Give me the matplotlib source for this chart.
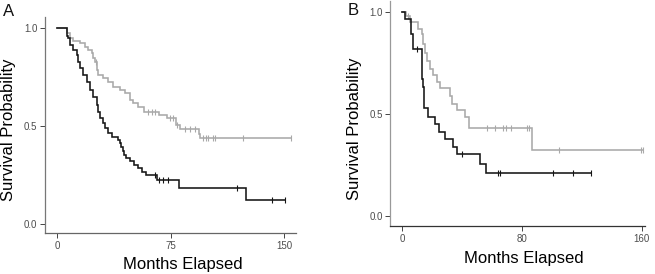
import numpy as np
import matplotlib
matplotlib.use("Agg")
import matplotlib.pyplot as plt

# ---------------- data ----------------
# Panel A (event times in months, survival after event)
a_black_t = [0, 6.4, 7.5, 8.6, 10.8, 13.0, 14.1, 15.2, 17.4, 19.6, 21.8, 24.0, 26.2, 27.3,
             28.4, 30.6, 31.7, 33.9, 36.1, 40.5, 41.5, 42.5, 43.3, 44.0, 45.5, 48.0, 51.0,
             53.5, 56.0, 59.0, 66.0, 80.5, 124.5]
a_black_s = [1.0, 0.96, 0.947, 0.913, 0.888, 0.862, 0.828, 0.794, 0.76, 0.726, 0.683, 0.649,
             0.607, 0.572, 0.539, 0.513, 0.487, 0.462, 0.445, 0.43, 0.41, 0.39, 0.37, 0.35,
             0.335, 0.318, 0.30, 0.283, 0.266, 0.249, 0.225, 0.18, 0.121]
a_black_cens = [64.5, 67.5, 70.0, 73.0, 118.5, 142.0, 150.4]

a_gray_t = [0, 6.4, 8.6, 10.8, 15.2, 18.5, 20.7, 22.9, 24.0, 25.1, 26.2, 27.3, 30.6, 33.9,
            37.2, 41.6, 44.6, 47.9, 50.0, 53.4, 57.7, 67.1, 72.6, 78.8, 81.0, 93.5, 94.5]
a_gray_s = [1.0, 0.975, 0.95, 0.935, 0.922, 0.904, 0.888, 0.871, 0.845, 0.828, 0.785, 0.76,
            0.743, 0.726, 0.70, 0.683, 0.666, 0.632, 0.615, 0.595, 0.572, 0.555, 0.539,
            0.504, 0.482, 0.46, 0.436]
a_gray_cens = [25.5, 60.0, 62.6, 64.8, 74.6, 76.7, 79.0, 84.4, 87.7, 91.0, 96.5, 98.3,
               99.8, 102.7, 104.2, 122.9, 154.4]

# Panel B
b_black_t = [0, 1.8, 5.5, 6.9, 13.0, 13.5, 14.0, 14.7, 17.4, 21.9, 24.8, 28.5, 34.1, 36.4,
             51.9, 55.7]
b_black_s = [1.0, 0.964, 0.89, 0.818, 0.761, 0.672, 0.631, 0.527, 0.485, 0.453, 0.412,
             0.38, 0.339, 0.303, 0.258, 0.214]
b_black_cens = [9.6, 39.7, 63.8, 65.3, 101.0, 113.9, 125.9]

b_gray_t = [0, 2.5, 5.1, 10.7, 13.0, 14.0, 15.2, 16.7, 18.5, 20.3, 23.0, 25.2, 31.9, 33.0,
            36.4, 41.9, 44.6, 86.5]
b_gray_s = [1.0, 0.98, 0.948, 0.916, 0.89, 0.843, 0.80, 0.761, 0.72, 0.69, 0.656, 0.628,
            0.59, 0.55, 0.518, 0.485, 0.431, 0.323]
b_gray_cens = [3.5, 56.8, 62.2, 67.5, 69.3, 72.8, 83.2, 84.8, 105.0, 159.4, 160.7]

a_xticks = [0, 75, 150]
b_xticks = [0, 80, 160]
yticks = [0.0, 0.5, 1.0]
ytick_labels = ["0.0", "0.5", "1.0"]

GRAY = "#a9a9a9"
BLACK = "#151515"

plt.rcParams['font.family'] = ['Liberation Sans', 'DejaVu Sans']

fig = plt.figure(figsize=(6.55, 2.74), dpi=100)
W, H = 655, 274


def px_axes(l, t, r, b):
    return fig.add_axes([l / W, 1 - b / H, (r - l) / W, (b - t) / H])


def km(ax, t, s, cens, color):
    t = np.asarray(t, float)
    s = np.asarray(s, float)
    cens = np.asarray(cens, float)
    tend = max(t.max(), cens.max())
    tt = np.append(t, tend)
    ss = np.append(s, s[-1])
    ax.step(tt, ss, where='post', color=color, lw=1.15, solid_joinstyle='miter')
    idx = np.searchsorted(t, cens, side='right') - 1
    ax.plot(cens, s[idx], ls='', marker='|', ms=4.5, mew=0.8, color=color)


def style(ax, xticks, xlim, ylim, xcol, ycol):
    ax.set_xlim(*xlim)
    ax.set_ylim(*ylim)
    ax.set_xticks(xticks)
    ax.set_xticklabels([str(v) for v in xticks])
    ax.set_yticks(yticks)
    ax.set_yticklabels(ytick_labels)
    for sp in ['top', 'right']:
        ax.spines[sp].set_visible(False)
    ax.spines['bottom'].set_color(xcol)
    ax.spines['left'].set_color(ycol)
    ax.spines['bottom'].set_linewidth(0.9)
    ax.spines['left'].set_linewidth(0.9)
    ax.tick_params(axis='both', length=3.5, width=0.7, color='#444444',
                   labelsize=7, labelcolor='#4d4d4d', pad=2)


# Panel A
axA = px_axes(45, 17, 296, 233)
km(axA, a_gray_t, a_gray_s, a_gray_cens, GRAY)
km(axA, a_black_t, a_black_s, a_black_cens, BLACK)
style(axA, a_xticks, (-7.9, 157.6), (-0.0475, 1.056), '#666666', '#777777')
axA.set_xlabel("Months Elapsed", fontsize=12)
axA.xaxis.set_label_coords((183 - 45) / 251, (233 - 264) / 216)
axA.xaxis.label.set_va('center')
axA.set_ylabel("Survival Probability", fontsize=12)
axA.yaxis.set_label_coords((8.5 - 45) / 251, (233 - 130) / 216)
axA.yaxis.label.set_va('center')

# Panel B
axB = px_axes(390.3, 0.5, 645, 226)
km(axB, b_gray_t, b_gray_s, b_gray_cens, GRAY)
km(axB, b_black_t, b_black_s, b_black_cens, BLACK)
style(axB, b_xticks, (-8.0, 162.2), (-0.047, 1.054), '#333333', '#999999')
axB.set_xlabel("Months Elapsed", fontsize=12)
axB.xaxis.set_label_coords((524 - 390.3) / 254.7, (226 - 258) / 225.5)
axB.xaxis.label.set_va('center')
axB.set_ylabel("Survival Probability", fontsize=12)
axB.yaxis.set_label_coords((355 - 390.3) / 254.7, (226 - 129) / 225.5)
axB.yaxis.label.set_va('center')

fig.text(9 / W, 1 - 11 / H, "A", fontsize=12, ha='center', va='center', color='#111111')
fig.text(353 / W, 1 - 10.5 / H, "B", fontsize=12, ha='center', va='center', color='#111111')

fig.savefig("out.png", dpi=100)
